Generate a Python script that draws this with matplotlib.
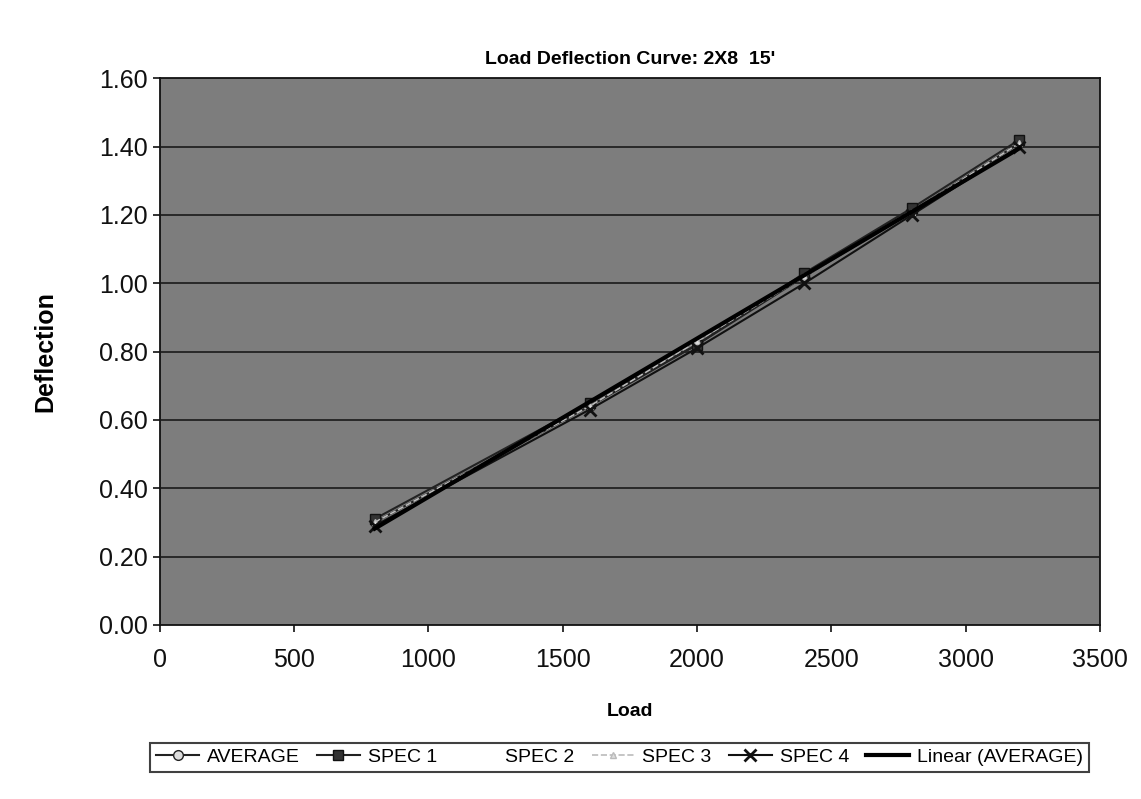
import numpy as np
import matplotlib
matplotlib.use("Agg")
import matplotlib.pyplot as plt

plt.rcParams['font.family'] = ['Liberation Sans', 'DejaVu Sans']

loads = [800, 1600, 2000, 2400, 2800, 3200]
average = [0.30, 0.64, 0.82, 1.02, 1.21, 1.41]
spec1 = [0.31, 0.65, 0.82, 1.03, 1.22, 1.42]
spec2 = [0.29, 0.63, 0.81, 1.01, 1.20, 1.40]
spec3 = [0.30, 0.64, 0.83, 1.02, 1.21, 1.41]
spec4 = [0.29, 0.63, 0.81, 1.00, 1.20, 1.40]

title = "Load Deflection Curve: 2X8  15'"
x_ticks = [0, 500, 1000, 1500, 2000, 2500, 3000, 3500]
y_ticks = [0.0, 0.2, 0.4, 0.6, 0.8, 1.0, 1.2, 1.4, 1.6]

fig = plt.figure(figsize=(11.41, 7.99), dpi=100)
ax = fig.add_axes([0.140, 0.218, 0.824, 0.684])
ax.set_facecolor('#7d7d7d')

ax.plot(loads, average, color='#222222', lw=1.5, marker='o', ms=7, mfc='#dddddd', mec='#222222', label='AVERAGE', zorder=3)
ax.plot(loads, spec1, color='#222222', lw=1.5, marker='s', ms=7, mfc='#333333', mec='#111111', label='SPEC 1', zorder=3)
ax.plot(loads, spec2, color='#cccccc', lw=0, marker='None', label='SPEC 2', zorder=3)
ax.plot(loads, spec3, color='#bbbbbb', lw=1.2, ls='--', marker='^', ms=5, mfc='#dddddd', mec='#bbbbbb', label='SPEC 3', zorder=3)
ax.plot(loads, spec4, color='#111111', lw=1.5, marker='x', ms=8, mew=2, label='SPEC 4', zorder=3)

coef = np.polyfit(loads, average, 1)
xs = np.array([loads[0], loads[-1]])
ax.plot(xs, np.polyval(coef, xs), color='#000000', lw=3, label='Linear (AVERAGE)', zorder=4)

ax.set_xlim(0, 3500)
ax.set_ylim(0, 1.6)
ax.set_xticks(x_ticks)
ax.set_yticks(y_ticks)
ax.set_yticklabels([f"{v:.2f}" for v in y_ticks])
ax.tick_params(axis='both', labelsize=18, direction='out', length=5, width=1.2, colors='#111111')
ax.tick_params(axis='x', pad=12)
ax.yaxis.grid(True, color='#1a1a1a', lw=1.2)
ax.set_axisbelow(False)
for s in ax.spines.values():
    s.set_color('#111111')
    s.set_linewidth(1.3)

ax.set_title(title, fontsize=14, fontweight='bold', pad=10)
ax.set_xlabel('Load', fontsize=14, fontweight='bold', labelpad=22)
ax.set_ylabel('Deflection', fontsize=18, fontweight='bold', labelpad=30)

leg = fig.legend(loc='center', bbox_to_anchor=(0.543, 0.052), ncol=6, fontsize=14,
                 frameon=True, fancybox=False, edgecolor='#111111', handlelength=2.2,
                 columnspacing=0.9, handletextpad=0.4, borderpad=0.3)
leg.get_frame().set_linewidth(1.5)

fig.savefig('out.png', dpi=100)
